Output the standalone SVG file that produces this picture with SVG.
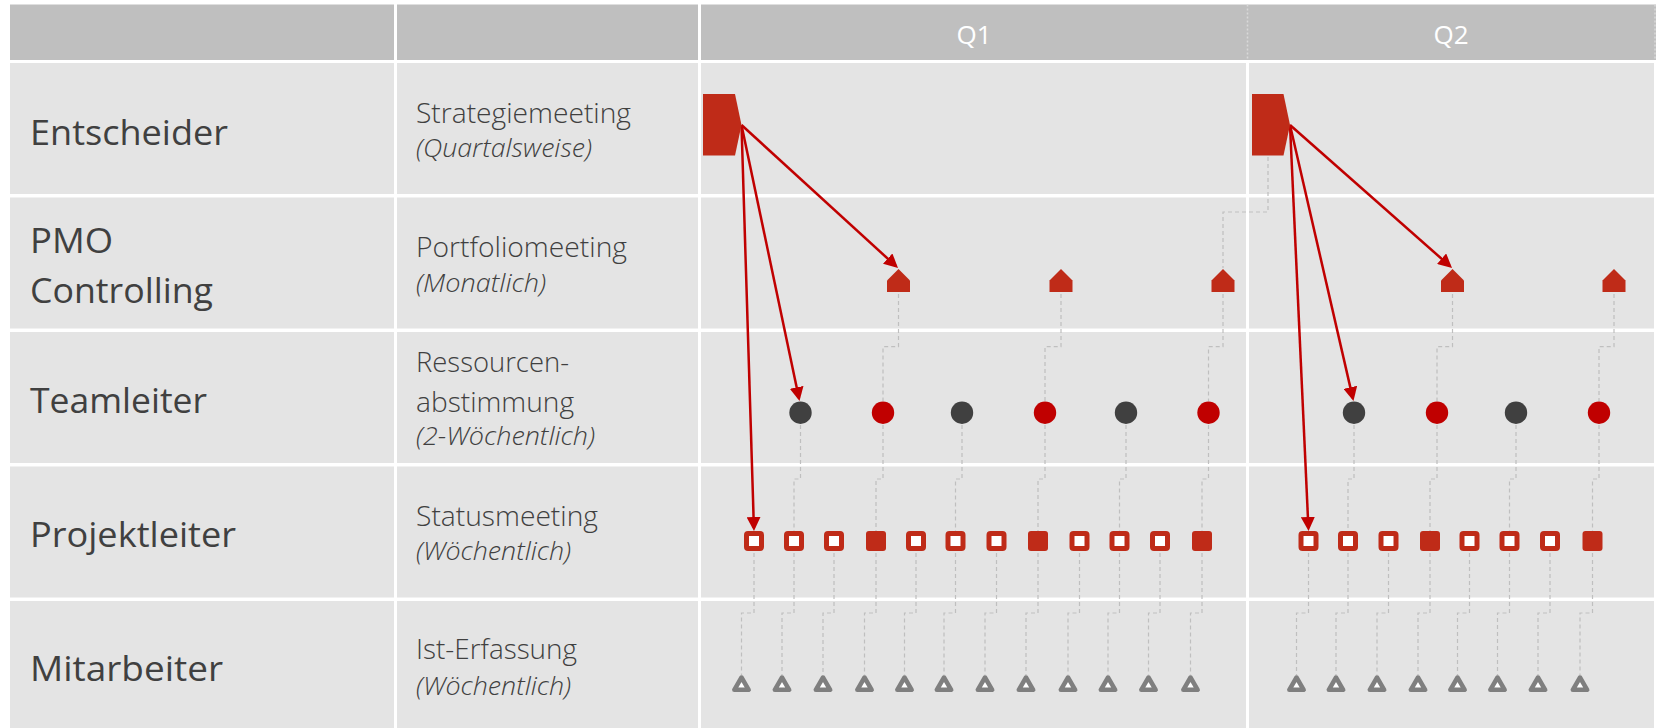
<svg xmlns="http://www.w3.org/2000/svg" width="1659" height="728" viewBox="0 0 1659 728">
<defs>
<style>
.cell{fill:#E4E4E4}
.hdr{fill:#BFBFBF}
.t{font-family:"Open Sans","Liberation Sans",sans-serif;fill:#404040}
.role{font-size:35px}
.mt{font-size:27px;font-weight:300}
.fq{font-size:25px;font-style:italic;font-weight:300}
.q{font-size:26px;fill:#FFFFFF;text-anchor:middle}
.red{fill:#BF2B18}
.dark{fill:#404040}
.rc{fill:#C00000}
.dash{fill:none;stroke:#BFBFBF;stroke-width:1.2;stroke-dasharray:4 3}
.hsep{fill:none;stroke:#D9D9D9;stroke-width:1.5;stroke-dasharray:2 2}
.arr{fill:none;stroke:#C00000;stroke-width:2.5;marker-end:url(#ah)}
.sqh{fill:#FFFFFF;stroke:#BF2B18;stroke-width:5}
.tri{fill:#FFFFFF;stroke:#7F7F7F;stroke-width:4.5;stroke-linejoin:round}
</style>
<marker id="ah" markerUnits="userSpaceOnUse" markerWidth="14" markerHeight="14" viewBox="0 0 14 14" refX="11" refY="7" orient="auto">
<path d="M0,0 L14,7 L0,14 z" fill="#C00000"/>
</marker>
</defs>
<rect width="1659" height="728" fill="#FFFFFF"/>
<g id="grid">
<rect class="hdr" x="10" y="4.5" width="384" height="55.5"/>
<rect class="hdr" x="397" y="4.5" width="301" height="55.5"/>
<rect class="hdr" x="701" y="4.5" width="955" height="55.5"/>
<line class="hsep" x1="1247.5" y1="4.5" x2="1247.5" y2="60"/>
<line class="hsep" x1="1655" y1="4.5" x2="1655" y2="60"/>
<rect class="cell" x="10" y="63" width="384" height="131"/>
<rect class="cell" x="397" y="63" width="301" height="131"/>
<rect class="cell" x="701" y="63" width="545" height="131"/>
<rect class="cell" x="1249" y="63" width="405" height="131"/>
<rect class="cell" x="10" y="197.5" width="384" height="131"/>
<rect class="cell" x="397" y="197.5" width="301" height="131"/>
<rect class="cell" x="701" y="197.5" width="545" height="131"/>
<rect class="cell" x="1249" y="197.5" width="405" height="131"/>
<rect class="cell" x="10" y="332" width="384" height="131"/>
<rect class="cell" x="397" y="332" width="301" height="131"/>
<rect class="cell" x="701" y="332" width="545" height="131"/>
<rect class="cell" x="1249" y="332" width="405" height="131"/>
<rect class="cell" x="10" y="466.5" width="384" height="131"/>
<rect class="cell" x="397" y="466.5" width="301" height="131"/>
<rect class="cell" x="701" y="466.5" width="545" height="131"/>
<rect class="cell" x="1249" y="466.5" width="405" height="131"/>
<rect class="cell" x="10" y="601" width="384" height="127"/>
<rect class="cell" x="397" y="601" width="301" height="127"/>
<rect class="cell" x="701" y="601" width="545" height="127"/>
<rect class="cell" x="1249" y="601" width="405" height="127"/>
</g>
<g id="labels">
<text class="t q" x="974" y="43.5">Q1</text>
<text class="t q" x="1451" y="43.5">Q2</text>
<text class="t role" x="30" y="145" textLength="198" lengthAdjust="spacingAndGlyphs">Entscheider</text>
<text class="t role" x="30" y="252.7" textLength="83" lengthAdjust="spacingAndGlyphs">PMO</text>
<text class="t role" x="30" y="302.7" textLength="183" lengthAdjust="spacingAndGlyphs">Controlling</text>
<text class="t role" x="30" y="412.5" textLength="177" lengthAdjust="spacingAndGlyphs">Teamleiter</text>
<text class="t role" x="30" y="546.5" textLength="206" lengthAdjust="spacingAndGlyphs">Projektleiter</text>
<text class="t role" x="30" y="680.5" textLength="193" lengthAdjust="spacingAndGlyphs">Mitarbeiter</text>
<text class="t mt" x="416" y="123.3" textLength="215" lengthAdjust="spacingAndGlyphs">Strategiemeeting</text>
<text class="t fq" x="416" y="156.5" textLength="176" lengthAdjust="spacingAndGlyphs">(Quartalsweise)</text>
<text class="t mt" x="416" y="257" textLength="211" lengthAdjust="spacingAndGlyphs">Portfoliomeeting</text>
<text class="t fq" x="416" y="291.5" textLength="130" lengthAdjust="spacingAndGlyphs">(Monatlich)</text>
<text class="t mt" x="416" y="372" textLength="153" lengthAdjust="spacingAndGlyphs">Ressourcen-</text>
<text class="t mt" x="416" y="411.7" textLength="158" lengthAdjust="spacingAndGlyphs">abstimmung</text>
<text class="t fq" x="416" y="445" textLength="179" lengthAdjust="spacingAndGlyphs">(2-Wöchentlich)</text>
<text class="t mt" x="416" y="526" textLength="182" lengthAdjust="spacingAndGlyphs">Statusmeeting</text>
<text class="t fq" x="416" y="559.5" textLength="155" lengthAdjust="spacingAndGlyphs">(Wöchentlich)</text>
<text class="t mt" x="416" y="659.3" textLength="161" lengthAdjust="spacingAndGlyphs">Ist-Erfassung</text>
<text class="t fq" x="416" y="694.5" textLength="155" lengthAdjust="spacingAndGlyphs">(Wöchentlich)</text>
</g>
<g id="connectors">
<path class="dash" d="M1268 157 V212 H1223 V268"/>
<path class="dash" d="M898.5 294 V346.7 H883 V401"/>
<path class="dash" d="M1061 294 V346.7 H1045 V401"/>
<path class="dash" d="M1223 294 V346.7 H1208.5 V401"/>
<path class="dash" d="M1452.5 294 V346.7 H1437 V401"/>
<path class="dash" d="M1614 294 V346.7 H1599 V401"/>
<path class="dash" d="M800.5 425 V479 H794 V531"/>
<path class="dash" d="M883 425 V479 H876 V531"/>
<path class="dash" d="M962 425 V479 H955.5 V531"/>
<path class="dash" d="M1045 425 V479 H1038 V531"/>
<path class="dash" d="M1126 425 V479 H1119.5 V531"/>
<path class="dash" d="M1208.5 425 V479 H1202 V531"/>
<path class="dash" d="M1354 425 V479 H1348 V531"/>
<path class="dash" d="M1437 425 V479 H1430 V531"/>
<path class="dash" d="M1516 425 V479 H1509.5 V531"/>
<path class="dash" d="M1599 425 V479 H1592.5 V531"/>
<path class="dash" d="M754 553 V613 H741.5 V675"/>
<path class="dash" d="M794 553 V613 H782 V675"/>
<path class="dash" d="M834 553 V613 H823 V675"/>
<path class="dash" d="M876 553 V613 H864.5 V675"/>
<path class="dash" d="M916 553 V613 H904.5 V675"/>
<path class="dash" d="M955.5 553 V613 H944 V675"/>
<path class="dash" d="M996.5 553 V613 H985 V675"/>
<path class="dash" d="M1038 553 V613 H1026 V675"/>
<path class="dash" d="M1079.5 553 V613 H1068 V675"/>
<path class="dash" d="M1119.5 553 V613 H1108 V675"/>
<path class="dash" d="M1160 553 V613 H1148.5 V675"/>
<path class="dash" d="M1202 553 V613 H1190.5 V675"/>
<path class="dash" d="M1308.5 553 V613 H1296.5 V675"/>
<path class="dash" d="M1348 553 V613 H1336 V675"/>
<path class="dash" d="M1388.5 553 V613 H1377 V675"/>
<path class="dash" d="M1430 553 V613 H1418 V675"/>
<path class="dash" d="M1469.5 553 V613 H1457.5 V675"/>
<path class="dash" d="M1509.5 553 V613 H1497.5 V675"/>
<path class="dash" d="M1550 553 V613 H1538 V675"/>
<path class="dash" d="M1592.5 553 V613 H1580 V675"/>
<path class="arr" d="M741.5 125 L895.8 266"/>
<path class="arr" d="M741.5 125 L798.9 398.1"/>
<path class="arr" d="M741.5 125 L753.9 528"/>
<path class="arr" d="M1290 125 L1449.8 266"/>
<path class="arr" d="M1290 125 L1352.8 398.1"/>
<path class="arr" d="M1290 125 L1308.4 528"/>
</g>
<g id="strategie-q1"><polygon class="red" points="703,94 735,94 741.5,125 735,155.5 703,155.5"/></g>
<g id="strategie-q2"><polygon class="red" points="1252,94 1283.5,94 1290,125 1283.5,155.5 1252,155.5"/></g>
<g id="portfolio-1"><polygon class="red" points="887,280.5 898.5,269 910,280.5 910,292 887,292"/></g>
<g id="portfolio-2"><polygon class="red" points="1049.5,280.5 1061,269 1072.5,280.5 1072.5,292 1049.5,292"/></g>
<g id="portfolio-3"><polygon class="red" points="1211.5,280.5 1223,269 1234.5,280.5 1234.5,292 1211.5,292"/></g>
<g id="portfolio-4"><polygon class="red" points="1441,280.5 1452.5,269 1464,280.5 1464,292 1441,292"/></g>
<g id="portfolio-5"><polygon class="red" points="1602.5,280.5 1614,269 1625.5,280.5 1625.5,292 1602.5,292"/></g>
<g id="ressourcen-1"><circle class="dark" cx="800.5" cy="412.7" r="11.2"/></g>
<g id="ressourcen-2"><circle class="rc" cx="883" cy="412.7" r="11.2"/></g>
<g id="ressourcen-3"><circle class="dark" cx="962" cy="412.7" r="11.2"/></g>
<g id="ressourcen-4"><circle class="rc" cx="1045" cy="412.7" r="11.2"/></g>
<g id="ressourcen-5"><circle class="dark" cx="1126" cy="412.7" r="11.2"/></g>
<g id="ressourcen-6"><circle class="rc" cx="1208.5" cy="412.7" r="11.2"/></g>
<g id="ressourcen-7"><circle class="dark" cx="1354" cy="412.7" r="11.2"/></g>
<g id="ressourcen-8"><circle class="rc" cx="1437" cy="412.7" r="11.2"/></g>
<g id="ressourcen-9"><circle class="dark" cx="1516" cy="412.7" r="11.2"/></g>
<g id="ressourcen-10"><circle class="rc" cx="1599" cy="412.7" r="11.2"/></g>
<g id="status-1"><rect class="sqh" x="746.5" y="533.5" width="15" height="15" rx="1.5"/></g>
<g id="status-2"><rect class="sqh" x="786.5" y="533.5" width="15" height="15" rx="1.5"/></g>
<g id="status-3"><rect class="sqh" x="826.5" y="533.5" width="15" height="15" rx="1.5"/></g>
<g id="status-4"><rect class="red" x="866" y="531" width="20" height="20" rx="3"/></g>
<g id="status-5"><rect class="sqh" x="908.5" y="533.5" width="15" height="15" rx="1.5"/></g>
<g id="status-6"><rect class="sqh" x="948" y="533.5" width="15" height="15" rx="1.5"/></g>
<g id="status-7"><rect class="sqh" x="989" y="533.5" width="15" height="15" rx="1.5"/></g>
<g id="status-8"><rect class="red" x="1028" y="531" width="20" height="20" rx="3"/></g>
<g id="status-9"><rect class="sqh" x="1072" y="533.5" width="15" height="15" rx="1.5"/></g>
<g id="status-10"><rect class="sqh" x="1112" y="533.5" width="15" height="15" rx="1.5"/></g>
<g id="status-11"><rect class="sqh" x="1152.5" y="533.5" width="15" height="15" rx="1.5"/></g>
<g id="status-12"><rect class="red" x="1192" y="531" width="20" height="20" rx="3"/></g>
<g id="status-13"><rect class="sqh" x="1301" y="533.5" width="15" height="15" rx="1.5"/></g>
<g id="status-14"><rect class="sqh" x="1340.5" y="533.5" width="15" height="15" rx="1.5"/></g>
<g id="status-15"><rect class="sqh" x="1381" y="533.5" width="15" height="15" rx="1.5"/></g>
<g id="status-16"><rect class="red" x="1420" y="531" width="20" height="20" rx="3"/></g>
<g id="status-17"><rect class="sqh" x="1462" y="533.5" width="15" height="15" rx="1.5"/></g>
<g id="status-18"><rect class="sqh" x="1502" y="533.5" width="15" height="15" rx="1.5"/></g>
<g id="status-19"><rect class="sqh" x="1542.5" y="533.5" width="15" height="15" rx="1.5"/></g>
<g id="status-20"><rect class="red" x="1582.5" y="531" width="20" height="20" rx="3"/></g>
<g id="ist-1"><polygon class="tri" points="741.5,677.5 748.7,689.8 734.3,689.8"/></g>
<g id="ist-2"><polygon class="tri" points="782,677.5 789.2,689.8 774.8,689.8"/></g>
<g id="ist-3"><polygon class="tri" points="823,677.5 830.2,689.8 815.8,689.8"/></g>
<g id="ist-4"><polygon class="tri" points="864.5,677.5 871.7,689.8 857.3,689.8"/></g>
<g id="ist-5"><polygon class="tri" points="904.5,677.5 911.7,689.8 897.3,689.8"/></g>
<g id="ist-6"><polygon class="tri" points="944,677.5 951.2,689.8 936.8,689.8"/></g>
<g id="ist-7"><polygon class="tri" points="985,677.5 992.2,689.8 977.8,689.8"/></g>
<g id="ist-8"><polygon class="tri" points="1026,677.5 1033.2,689.8 1018.8,689.8"/></g>
<g id="ist-9"><polygon class="tri" points="1068,677.5 1075.2,689.8 1060.8,689.8"/></g>
<g id="ist-10"><polygon class="tri" points="1108,677.5 1115.2,689.8 1100.8,689.8"/></g>
<g id="ist-11"><polygon class="tri" points="1148.5,677.5 1155.7,689.8 1141.3,689.8"/></g>
<g id="ist-12"><polygon class="tri" points="1190.5,677.5 1197.7,689.8 1183.3,689.8"/></g>
<g id="ist-13"><polygon class="tri" points="1296.5,677.5 1303.7,689.8 1289.3,689.8"/></g>
<g id="ist-14"><polygon class="tri" points="1336,677.5 1343.2,689.8 1328.8,689.8"/></g>
<g id="ist-15"><polygon class="tri" points="1377,677.5 1384.2,689.8 1369.8,689.8"/></g>
<g id="ist-16"><polygon class="tri" points="1418,677.5 1425.2,689.8 1410.8,689.8"/></g>
<g id="ist-17"><polygon class="tri" points="1457.5,677.5 1464.7,689.8 1450.3,689.8"/></g>
<g id="ist-18"><polygon class="tri" points="1497.5,677.5 1504.7,689.8 1490.3,689.8"/></g>
<g id="ist-19"><polygon class="tri" points="1538,677.5 1545.2,689.8 1530.8,689.8"/></g>
<g id="ist-20"><polygon class="tri" points="1580,677.5 1587.2,689.8 1572.8,689.8"/></g>
</svg>
